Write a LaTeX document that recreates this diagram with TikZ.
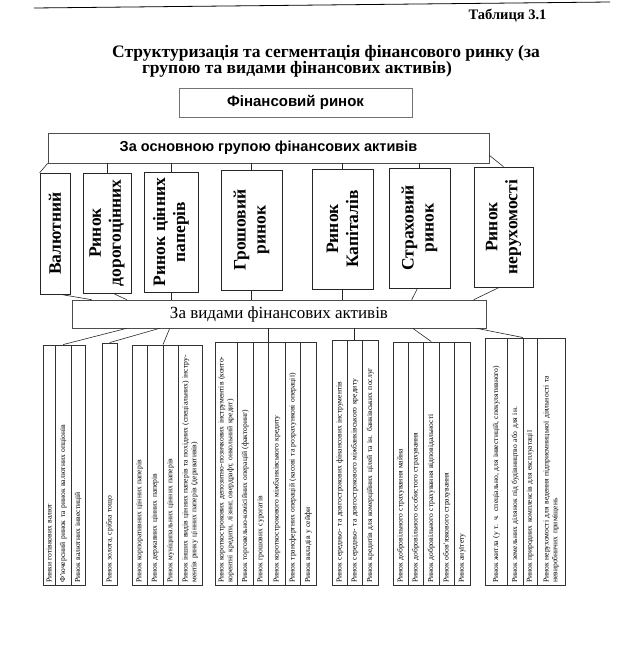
\documentclass[tikz,border=0pt]{standalone}
\usepackage{fontspec}
\setmainfont{Liberation Serif}
\setsansfont{Liberation Sans}
\usetikzlibrary{positioning}

\begin{document}
\begin{tikzpicture}[x=1pt,y=-1pt,
  hbox/.style={rectangle,draw=black!70,line width=0.6pt,inner sep=0pt},
  vbox/.style={rectangle,draw=black!85,line width=0.6pt,rotate=90,align=center,
               inner sep=0pt,font=\fontsize{17.5}{20}\selectfont\bfseries},
  leaf/.style={rectangle,draw=black!80,line width=0.45pt,rotate=90,
               anchor=north west,align=left,inner xsep=2pt,inner ysep=0.5pt,
               text width=#1,font=\fontsize{7.6}{8.8}\selectfont},
  link/.style={black!85,line width=0.6pt},
]
  \useasboundingbox (0,0) rectangle (624,661);

  % Header
  \draw[line width=0.8pt] (34,8) -- (610,2);
  \node[font=\fontsize{14.5}{16}\selectfont\bfseries,anchor=east] (tab) at (550,16) {Таблиця 3.1};
  \node[font=\fontsize{17.5}{20}\selectfont\bfseries] (ttl1) at (326,53)
    {Структуризація та сегментація фінансового ринку (за};
  \node[font=\fontsize{17.5}{20}\selectfont\bfseries] (ttl2) at (297,69)
    {групою та видами фінансових активів)};

  % Upper level
  \node[hbox,draw=black!55,minimum width=233pt,minimum height=29pt,
        font=\sffamily\bfseries\fontsize{15}{18}\selectfont] (fin) at (295.5,102.5) {Фінансовий ринок};
  \node[hbox,minimum width=441pt,minimum height=30pt,
        font=\sffamily\bfseries\fontsize{14.5}{17}\selectfont] (osn) at (268.5,148)
    {За основною групою фінансових активів};

  % Markets by main group (vertical boxes)
  \node[vbox,minimum width=121pt,minimum height=30pt] (v1) at (55,233.5) {Валютний};
  \node[vbox,minimum width=120pt,minimum height=48pt] (v2) at (107,233) {Ринок\\дорогоцінних};
  \node[vbox,minimum width=120pt,minimum height=54pt] (v3) at (171,232) {Ринок цінних\\паперів};
  \node[vbox,minimum width=120pt,minimum height=61pt] (v4) at (251.5,230) {Грошовий\\ринок};
  \node[vbox,minimum width=120pt,minimum height=61pt] (v5) at (342.5,229) {Ринок\\Капіталів};
  \node[vbox,minimum width=120pt,minimum height=61pt] (v6) at (419.5,228) {Страховий\\ринок};
  \node[vbox,minimum width=120pt,minimum height=59pt] (v7) at (503.5,227) {Ринок\\нерухомості};

  % By kind of assets
  \node[hbox,minimum width=414pt,minimum height=28pt,
        font=\fontsize{17}{20}\selectfont] (vid) at (279,314) {За видами фінансових активів};

  % Links: main group -> markets
  \draw[link] (osn.south west) -- (v1.north east);
  \draw[link] (osn.south -| v2.east) -- (v2.east);
  \draw[link] (osn.south -| v3.east) -- (v3.east);
  \draw[link] (osn.south -| v4.east) -- (v4.east);
  \draw[link] (osn.south -| v5.east) -- (v5.east);
  \draw[link] (osn.south -| v6.east) -- (v6.east);
  \draw[link] ([yshift=8pt]osn.south east) -- (v7.east);

  % Links: markets -> kinds of assets
  \draw[link] ([xshift=5pt]v1.west) -- ([xshift=20pt]vid.north west);
  \draw[link] ([xshift=6pt]v2.west) -- ([xshift=55pt]vid.north west);
  \draw[link] (v3.west) -- (v3.west |- vid.north);
  \draw[link] (v4.west) -- (v4.west |- vid.north);
  \draw[link] (v5.west) -- (v5.west |- vid.north);
  \draw[link] ([xshift=-2pt]v6.west) -- ([xshift=340pt]vid.north west);
  \draw[link] ([xshift=-4pt]v7.west) -- ([xshift=402pt]vid.north west);

  % Currency market
  \node[leaf=236pt,minimum height=12pt] (a1) at (43,585) {Ринки готівкових валют};
  \node[leaf=236pt,minimum height=16pt] (a2) at (55,585) {Ф'ючерсний ринок та ринок валютних опціонів};
  \node[leaf=236pt,minimum height=14pt] (a3) at (71,585) {Ринок валютних інвестицій};

  % Precious metals
  \node[leaf=238pt,minimum height=15pt] (b1) at (102,585) {Ринок золота, срібла тощо};

  % Securities
  \node[leaf=236pt,minimum height=15pt] (c1) at (132,585) {Ринок корпоративних цінних паперів};
  \node[leaf=236pt,minimum height=16pt] (c2) at (147,585) {Ринок державних цінних паперів};
  \node[leaf=236pt,minimum height=15pt] (c3) at (163,585) {Ринок муніципальних цінних паперів};
  \node[leaf=236pt,minimum height=24pt] (c4) at (178,585)
    {Ринок інших видів цінних паперів та похідних (спеціальних) інстру-\\ментів ринку цінних паперів (деривативів)};

  % Money market
  \node[leaf=239pt,minimum height=22pt] (d1) at (215,585)
    {Ринок короткострокових депозитно-позичкових інструментів (конто-\\корентні кредити, лізинг, овердрафт, онкольний кредит)};
  \node[leaf=239pt,minimum height=16pt] (d2) at (237,585) {Ринок торговельно-комісійних операцій (факторинг)};
  \node[leaf=239pt,minimum height=15pt] (d3) at (253,585) {Ринок грошових сурогатів};
  \node[leaf=239pt,minimum height=17pt] (d4) at (268,585) {Ринок короткострокового міжбанківського кредиту};
  \node[leaf=239pt,minimum height=15pt] (d5) at (285,585) {Ринок трансфертних операцій (касові та розрахункові операції)};
  \node[leaf=239pt,minimum height=16pt] (d6) at (300,585) {Ринок вкладів у сейфи};

  % Capital market
  \node[leaf=241pt,minimum height=15pt] (e1) at (332,585) {Ринок середньо- та довгострокових фінансових інструментів};
  \node[leaf=241pt,minimum height=15pt] (e2) at (347,585) {Ринок середньо- та довгострокового міжбанківського кредиту};
  \node[leaf=241pt,minimum height=16pt] (e3) at (362,585) {Ринок кредитів для комерційних цілей та ін. банківських послуг};

  % Insurance market
  \node[leaf=239pt,minimum height=15pt] (f1) at (393,585) {Ринок добровільного страхування майна};
  \node[leaf=239pt,minimum height=15pt] (f2) at (408,585) {Ринок добровільного особистого страхування};
  \node[leaf=239pt,minimum height=16pt] (f3) at (423,585) {Ринок добровільного страхування відповідальності};
  \node[leaf=239pt,minimum height=15pt] (f4) at (439,585) {Ринок обов'язкового страхування};
  \node[leaf=239pt,minimum height=16pt] (f5) at (454,585) {Ринок ануїтету};

  % Real estate market
  \node[leaf=243pt,minimum height=22pt] (g1) at (485,585) {Ринок житла (у т. ч. спеціально, для інвестицій, спекулятивного)};
  \node[leaf=243pt,minimum height=16pt] (g2) at (507,585) {Ринок земельних ділянок під будівництво або для ін.};
  \node[leaf=243pt,minimum height=14pt] (g3) at (523,585) {Ринок природних комплексів для експлуатації};
  \node[leaf=243pt,minimum height=28pt] (g4) at (537,585)
    {Ринок нерухомості для ведення підприємницької діяльності та\\невиробничих приміщень};

  % Links: kinds of assets -> segments
  \draw[link] ([xshift=55pt]vid.south west) -- (a2.east);
  \draw[link] ([xshift=88pt]vid.south west) -- (b1.east);
  \draw[link] ([xshift=98pt]vid.south west) -- (c3.north east);
  \draw[link] (d3.south east |- vid.south) -- (d3.south east);
  \draw[link] (e2.east |- vid.south) -- (e2.east);
  \draw[link] ([xshift=341pt]vid.south west) -- (f3.east);
  \draw[link] ([xshift=405pt]vid.south west) -- (g3.north east);
\end{tikzpicture}
\end{document}
